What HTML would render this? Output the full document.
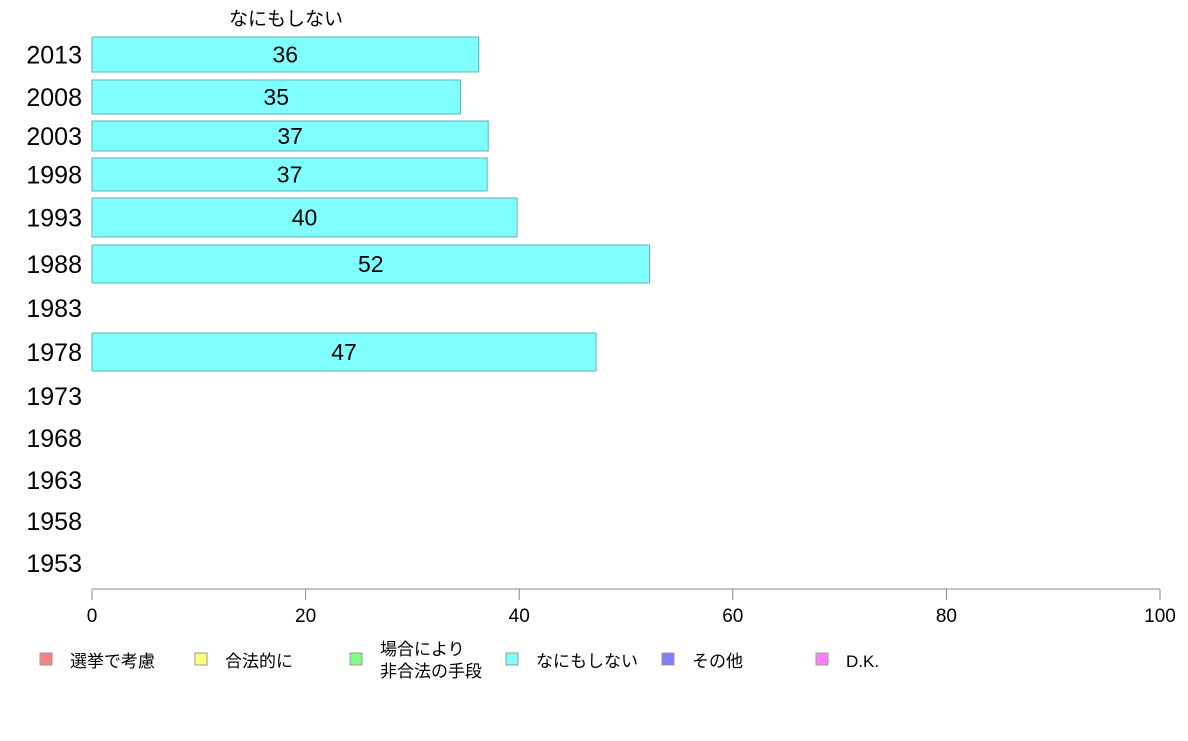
<!DOCTYPE html>
<html><head><meta charset="utf-8"><style>
body{margin:0;background:#fff;}
text{font-family:"Liberation Sans","Noto Sans CJK JP",sans-serif;}
</style></head><body>
<svg id="chart" width="1188" height="736" xmlns="http://www.w3.org/2000/svg">
<text x="286" y="25" font-size="19" text-anchor="middle">なにもしない</text>
<g id="bars"></g>
<g id="axis"></g>
<g id="legend"></g>
</svg>
<script>
const years=["2013","2008","2003","1998","1993","1988","1983","1978","1973","1968","1963","1958","1953"];
const values=[36.2,34.5,37.1,37,39.8,52.2,null,47.2,null,null,null,null,null];
const labels=["36","35","37","37","40","52","","47","","","","",""];
const ticks=[0,20,40,60,80,100];
const legendNames=["選挙で考慮","合法的に","場合により\n非合法の手段","なにもしない","その他","D.K."];
const legendColors=["#ff8080","#ffff80","#80ff80","#80ffff","#8080ff","#ff80ff"];
// layout (row bounds in px)
const rowTop=[37,80,121,158,198,245,290,333,378,420,462,503,545];
const rowBot=[72,114,151,191,237,283,326,371,414,456,498,539,581];
const NS="http://www.w3.org/2000/svg";
const x=v=>92+v*10.68;
function mk(t,a,p){const e=document.createElementNS(NS,t);for(const k in a)e.setAttribute(k,a[k]);p.appendChild(e);return e;}
const gb=document.getElementById('bars');
years.forEach((y,i)=>{
  const cy=(rowTop[i]+rowBot[i])/2;
  const t=mk('text',{x:82,y:cy+9,'font-size':25,'text-anchor':'end'},gb);t.textContent=y;
  
  
  if(values[i]!=null){
    const r=mk('rect',{x:x(0),y:rowTop[i],width:x(values[i])-x(0),height:rowBot[i]-rowTop[i],fill:'#80ffff',stroke:'#5fb5b5','stroke-width':1},gb);
    
    
    const l=mk('text',{x:(x(0)+x(values[i]))/2,y:cy+8,'font-size':23,'text-anchor':'middle'},gb);l.textContent=labels[i];
    
    
  }
});
const ga=document.getElementById('axis');
const al=mk('line',{x1:x(0),x2:x(100),y1:589,y2:589,stroke:'#888'},ga);


ticks.forEach(v=>{
  mk('line',{x1:x(v),x2:x(v),y1:589,y2:600,stroke:'#888'},ga);
  const t=mk('text',{x:x(v),y:622,'font-size':19,'text-anchor':'middle'},ga);t.textContent=v;
  
  
});
const gl=document.getElementById('legend');
const lx=[40,195,350,506,662,816];
legendNames.forEach((n,i)=>{
  const g=mk('g',{},gl);
  
  
  mk('rect',{x:lx[i],y:653,width:12,height:12,fill:legendColors[i],stroke:'#999'},g);
  const parts=n.split('\n');
  parts.forEach((p,j)=>{
    const yy=parts.length==1?667:655+j*22;
    const t=mk('text',{x:lx[i]+30,y:yy,'font-size':17},g);t.textContent=p;
  });
});
</script>
</body></html>
